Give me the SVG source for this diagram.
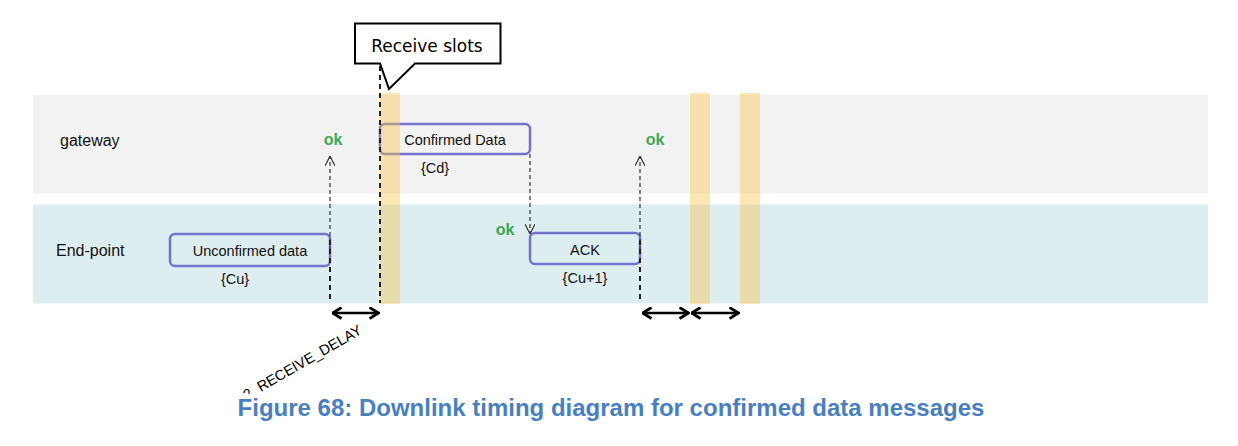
<svg xmlns="http://www.w3.org/2000/svg" width="1238" height="446" viewBox="0 0 1238 446">
  <style>
    .lbl{font-family:"Liberation Sans",Arial,sans-serif;font-size:16px;fill:#111}
    .box{fill:none;stroke:#7373cc;stroke-width:2.5}
    .btxt{font-family:"Liberation Sans",Arial,sans-serif;font-size:14.5px;fill:#111;text-anchor:middle}
    .ok{font-family:"Liberation Sans",Arial,sans-serif;font-size:16px;font-weight:bold;fill:#3aa757;text-anchor:middle}
    .slot{fill:#f9c246;fill-opacity:0.4}
    .thin{stroke:#333;stroke-width:1.2;stroke-dasharray:4 3;fill:none}
    .thick{stroke:#222;stroke-width:2;stroke-dasharray:5 4;fill:none}
    .dbl{stroke:#000;stroke-width:2.5;fill:none}
  </style>
  <defs>
    <marker id="open" viewBox="0 0 10 10" refX="10" refY="5" markerWidth="10" markerHeight="10" markerUnits="userSpaceOnUse" orient="auto">
      <path d="M0,0 L10,5 L0,10" fill="none" stroke="#333" stroke-width="1.2"/>
    </marker>
    <marker id="bold" viewBox="0 0 11 13" refX="10.5" refY="6.5" markerWidth="11" markerHeight="13" markerUnits="userSpaceOnUse" orient="auto-start-reverse">
      <path d="M1,1 L10,6.5 L1,12" fill="none" stroke="#000" stroke-width="2.8"/>
    </marker>
    <clipPath id="clipb"><rect x="0" y="0" width="1238" height="394"/></clipPath>
  </defs>
  <rect width="1238" height="446" fill="#fff"/>

  <g id="lanes">
    <rect id="lane-gateway" x="33" y="95" width="1175" height="98.5" fill="#f2f2f2"/>
    <rect id="lane-endpoint" x="33" y="204.5" width="1175" height="99" fill="#ddedf0"/>
    <text class="lbl" x="60" y="146">gateway</text>
    <text class="lbl" x="56" y="256">End-point</text>
  </g>

  <g id="node-unconfirmed">
    <rect class="box" x="170" y="234" width="160" height="32" rx="5"/>
    <text class="btxt" x="250" y="256">Unconfirmed data</text>
    <text class="btxt" x="235" y="284">{Cu}</text>
  </g>
  <g id="node-confirmed">
    <rect class="box" x="380" y="124" width="150" height="30" rx="5"/>
    <text class="btxt" x="455" y="145">Confirmed Data</text>
    <text class="btxt" x="435" y="173">{Cd}</text>
  </g>
  <g id="node-ack">
    <rect class="box" x="530" y="233" width="110" height="31" rx="5"/>
    <text class="btxt" x="585" y="255">ACK</text>
    <text class="btxt" x="585" y="283">{Cu+1}</text>
  </g>

  <g id="slots">
    <rect class="slot" x="380" y="93" width="20" height="211"/>
    <rect class="slot" x="690" y="93" width="20" height="211"/>
    <rect class="slot" x="740" y="93" width="20" height="211"/>
  </g>

  <g id="connectors">
    <line class="thin" x1="330" y1="250" x2="330" y2="156" marker-end="url(#open)"/>
    <line class="thick" x1="330" y1="240" x2="330" y2="303"/>
    <line class="thin" x1="530" y1="154" x2="530" y2="234" marker-end="url(#open)"/>
    <line class="thin" x1="640" y1="250" x2="640" y2="156" marker-end="url(#open)"/>
    <line class="thick" x1="640" y1="240" x2="640" y2="303"/>
    <line class="thick" x1="380" y1="66" x2="380" y2="303"/>
    <line class="dbl" x1="332" y1="313" x2="379" y2="313" marker-start="url(#bold)" marker-end="url(#bold)"/>
    <line class="dbl" x1="642" y1="313" x2="689" y2="313" marker-start="url(#bold)" marker-end="url(#bold)"/>
    <line class="dbl" x1="691" y1="313" x2="739" y2="313" marker-start="url(#bold)" marker-end="url(#bold)"/>
  </g>

  <g id="oks">
    <text class="ok" x="333" y="145">ok</text>
    <text class="ok" x="505" y="235">ok</text>
    <text class="ok" x="655" y="145">ok</text>
  </g>

  <g id="callout">
    <path d="M355,23.5 H500.5 V63.5 H415 L389,89 L380,63.5 H355 Z" fill="#fff" stroke="#000" stroke-width="2" stroke-linejoin="miter"/>
    <text x="427" y="52" font-family="'DejaVu Sans',Verdana,sans-serif" font-size="17" fill="#000" text-anchor="middle">Receive slots</text>
  </g>

  <g id="delay-label" clip-path="url(#clipb)">
    <text x="363" y="333" transform="rotate(-30 363 333)" font-family="'Liberation Sans',Arial,sans-serif" font-size="14.5" fill="#000" text-anchor="end">2_RECEIVE_DELAY</text>
  </g>

  <text x="611" y="416" font-family="'Liberation Sans',Arial,sans-serif" font-size="24" font-weight="bold" fill="#4a7fbf" text-anchor="middle">Figure 68: Downlink timing diagram for confirmed data messages</text>
</svg>
